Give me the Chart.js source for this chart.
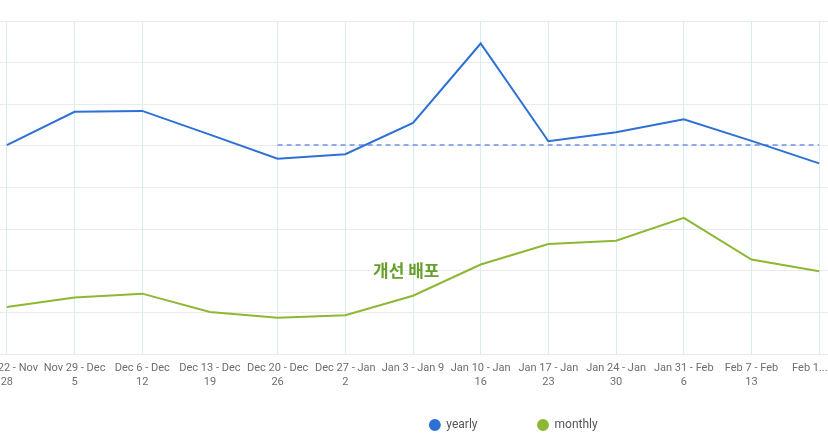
<!DOCTYPE html>
<html lang="ko">
<head>
<meta charset="utf-8">
<title>yearly / monthly</title>
<script src="https://cdn.jsdelivr.net/npm/chart.js@4"></script>
<style>
    html, body { margin: 0; padding: 0; background: #fff; overflow: hidden; }
    body { width: 828px; height: 436px; position: relative; }
    #wrap { position: absolute; left: -67px; top: 0; width: 1121px; height: 470px; }
</style>
</head>
<body>
<div id="wrap"><canvas id="trendChart"></canvas></div>
<script>
// ---- data ----
const weeks = [
    ['Nov 22 - Nov', '28'],
    ['Nov 29 - Dec', '5'],
    ['Dec 6 - Dec', '12'],
    ['Dec 13 - Dec', '19'],
    ['Dec 20 - Dec', '26'],
    ['Dec 27 - Jan', '2'],
    ['Jan 3 - Jan 9'],
    ['Jan 10 - Jan', '16'],
    ['Jan 17 - Jan', '23'],
    ['Jan 24 - Jan', '30'],
    ['Jan 31 - Feb', '6'],
    ['Feb 7 - Feb', '13'],
    ['Feb 1...']
];
const yearly = [50.2, 58.2, 58.4, 52.7, 46.9, 48.0, 55.5, 74.6, 51.1, 53.3, 56.4, 51.2, 45.8];
const monthly = [11.3, 13.6, 14.5, 10.1, 8.7, 9.3, 14.0, 21.5, 26.4, 27.2, 32.7, 22.7, 19.9];
const baseline = [null, null, null, null, 50.2, 50.2, 50.2, 50.2, 50.2, 50.2, 50.2, 50.2, 50.2];
const yTicks = [0, 10, 20, 30, 40, 50, 60, 70, 80];

const noteText = '개선 배포';
const noteIndex = 5.9;
const noteValue = 20;

const BLUE = '#2e70d4';
const GREEN = '#8cb833';

// annotation text drawn against the scales
const notePlugin = {
    id: 'note',
    afterDatasetsDraw(chart) {
        const { ctx, scales } = chart;
        ctx.save();
        ctx.font = 'bold 17px "Noto Sans CJK KR", sans-serif';
        ctx.fillStyle = '#68a02e';
        ctx.textAlign = 'center';
        ctx.textBaseline = 'middle';
        ctx.fillText(noteText, scales.x.getPixelForValue(noteIndex), scales.y.getPixelForValue(noteValue));
        ctx.restore();
    }
};

// pull the legend row up closer to the axis labels
const legendNudge = {
    id: 'legendNudge',
    afterLayout(chart) {
        const lg = chart.legend;
        if (!lg) return;
        lg.top -= 29;
        lg.bottom -= 29;
    }
};

new Chart(document.getElementById('trendChart').getContext('2d'), {
    type: 'line',
    data: {
        labels: weeks,
        datasets: [
            {
                label: 'yearly',
                data: yearly,
                borderColor: BLUE,
                backgroundColor: BLUE,
                borderWidth: 2,
                pointRadius: 0,
                tension: 0
            },
            {
                label: 'monthly',
                data: monthly,
                borderColor: GREEN,
                backgroundColor: GREEN,
                borderWidth: 2,
                pointRadius: 0,
                tension: 0
            },
            {
                label: 'baseline',
                data: baseline,
                borderColor: '#6f8ff2',
                borderWidth: 1.5,
                borderDash: [5, 4],
                pointRadius: 0,
                tension: 0
            }
        ]
    },
    options: {
        responsive: true,
        maintainAspectRatio: false,
        animation: false,
        layout: { padding: { left: 40, right: 0, top: 21, bottom: 0 } },
        plugins: {
            tooltip: { enabled: false },
            legend: {
                position: 'bottom',
                labels: {
                    filter: (item) => item.text !== 'baseline',
                    usePointStyle: true,
                    pointStyle: 'circle',
                    boxWidth: 11,
                    boxHeight: 7,
                    padding: 60,
                    color: '#555',
                    font: { family: 'Roboto', size: 12 }
                }
            }
        },
        scales: {
            x: {
                offset: true,
                border: { display: false },
                grid: {
                    offset: false,
                    drawTicks: false,
                    color: (ctx) => ctx.index === 3 ? 'rgba(0,0,0,0)' : '#d5eeee'
                },
                ticks: {
                    autoSkip: false,
                    maxRotation: 0,
                    padding: 8,
                    color: '#6e6e6e',
                    font: { family: 'Roboto', size: 11 },
                    callback: function (value, index) {
                        const label = this.getLabelForValue(value);
                        if (index === weeks.length - 1) return label + '\u2007\u2007\u2007';
                        return label;
                    }
                },
                afterFit: (scale) => { scale.height = 34; }
            },
            y: {
                position: 'right',
                min: yTicks[0],
                max: yTicks[yTicks.length - 1],
                border: { display: false },
                grid: { color: '#ebebeb', drawTicks: false },
                ticks: { display: false, stepSize: 10 },
                afterFit: (scale) => { scale.width = 201; }
            }
        }
    },
    plugins: [notePlugin, legendNudge]
});
</script>
</body>
</html>
